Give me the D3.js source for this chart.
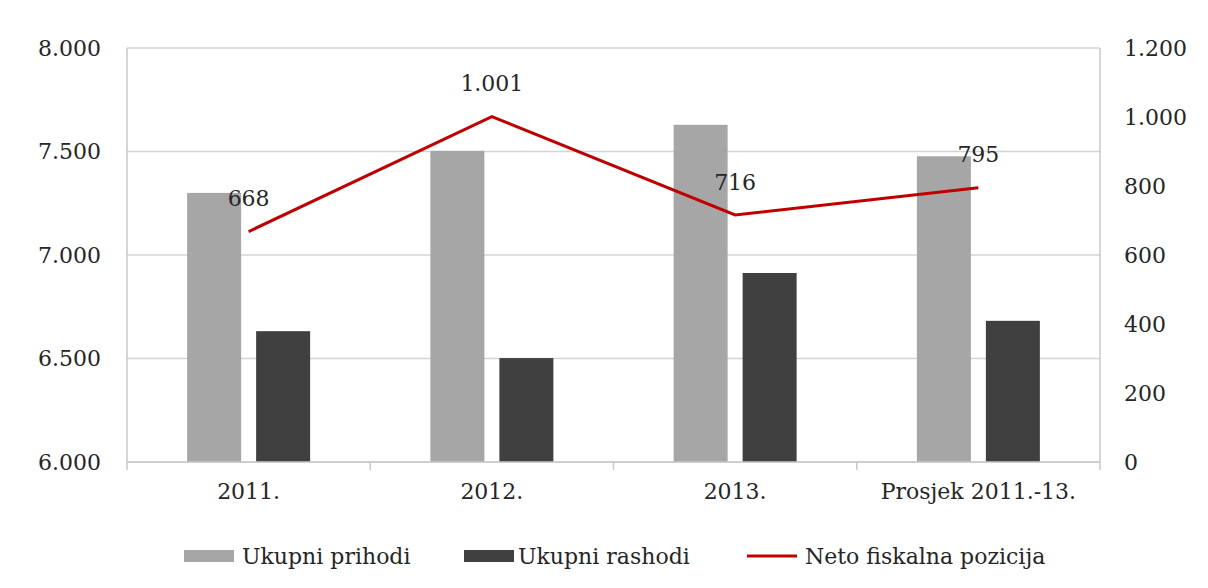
<!DOCTYPE html>
<html><head><meta charset="utf-8">
<script src="https://cdn.jsdelivr.net/npm/d3@7"></script>
<style>body{margin:0;background:#fff}svg text{font-family:"DejaVu Serif",serif;fill:#262626}</style>
</head><body><svg id="c" width="1208" height="588"></svg>
<script>
const categories = ["2011.", "2012.", "2013.", "Prosjek 2011.-13."];
const prihodi = [7300, 7503, 7629, 7477];
const rashodi = [6632, 6502, 6913, 6682];
const neto = [668, 1001, 716, 795];
const netoLabels = ["668", "1.001", "716", "795"];
const leftTicks = [6000, 6500, 7000, 7500, 8000];
const rightTicks = [0, 200, 400, 600, 800, 1000, 1200];
const seriesNames = ["Ukupni prihodi", "Ukupni rashodi", "Neto fiskalna pozicija"];

const svg = d3.select("#c");
const L = 127, R = 1100, T = 48, B = 462;
const fmt = v => d3.format(",")(v).replace(/,/g, ".");
const x = d3.scaleBand().domain(categories).range([L, R]);
const yL = d3.scaleLinear().domain([6000, 8000]).range([B, T]);
const yR = d3.scaleLinear().domain([0, 1200]).range([B, T]);
const barW = 54, gap = 15;

// gridlines
svg.append("g").selectAll("line").data(leftTicks).join("line")
  .attr("x1", L).attr("x2", R).attr("y1", d => yL(d)).attr("y2", d => yL(d))
  .attr("stroke", "#d4d4d4").attr("stroke-width", 1.5);
// axes lines
svg.append("line").attr("x1", L).attr("x2", L).attr("y1", T).attr("y2", B).attr("stroke", "#c8c8c8").attr("stroke-width", 1.5);
svg.append("line").attr("x1", R).attr("x2", R).attr("y1", T).attr("y2", B).attr("stroke", "#c8c8c8").attr("stroke-width", 1.5);

// bars
const g = svg.append("g");
g.selectAll("rect.p").data(categories).join("rect").attr("class", "p")
  .attr("x", (d) => x(d) + x.bandwidth() / 2 - gap / 2 - barW)
  .attr("width", barW)
  .attr("y", (d, i) => yL(prihodi[i])).attr("height", (d, i) => B - yL(prihodi[i]))
  .attr("fill", "#a6a6a6");
g.selectAll("rect.r").data(categories).join("rect").attr("class", "r")
  .attr("x", (d) => x(d) + x.bandwidth() / 2 + gap / 2)
  .attr("width", barW)
  .attr("y", (d, i) => yL(rashodi[i])).attr("height", (d, i) => B - yL(rashodi[i]))
  .attr("fill", "#404040");

// x axis
svg.append("line").attr("x1", L).attr("x2", R).attr("y1", B).attr("y2", B).attr("stroke", "#c8c8c8").attr("stroke-width", 1.5);
const bounds = categories.map(d => x(d)).concat([R]);
svg.append("g").selectAll("line").data(bounds).join("line")
  .attr("x1", d => d).attr("x2", d => d).attr("y1", B).attr("y2", B + 8)
  .attr("stroke", "#c8c8c8").attr("stroke-width", 1.5);
svg.append("g").selectAll("text").data(categories).join("text")
  .attr("x", d => x(d) + x.bandwidth() / 2).attr("y", 499)
  .attr("text-anchor", "middle").attr("font-size", 22).text(d => d);

// left labels
svg.append("g").selectAll("text").data(leftTicks).join("text")
  .attr("x", 101).attr("y", d => yL(d)).attr("dy", "0.35em")
  .attr("text-anchor", "end").attr("font-size", 22).text(d => fmt(d));
// right labels
svg.append("g").selectAll("text").data(rightTicks).join("text")
  .attr("x", 1124).attr("y", d => yR(d)).attr("dy", "0.35em")
  .attr("text-anchor", "start").attr("font-size", 22).text(d => fmt(d));

// line
const cx = (d) => x(d) + x.bandwidth() / 2;
const line = d3.line().x((d, i) => cx(categories[i])).y(d => yR(d));
svg.append("path").datum(neto).attr("d", line).attr("fill", "none")
  .attr("stroke", "#c00000").attr("stroke-width", 3);
svg.append("g").selectAll("text").data(neto).join("text")
  .attr("x", (d, i) => cx(categories[i])).attr("y", d => yR(d) - 33).attr("dy", "0.35em")
  .attr("text-anchor", "middle").attr("font-size", 22).text((d, i) => netoLabels[i]);

// legend
const lg = svg.append("g");
const ly = 556;
lg.append("rect").attr("x", 184).attr("y", ly - 6).attr("width", 50).attr("height", 12).attr("fill", "#a6a6a6");
lg.append("text").attr("x", 242).attr("y", ly).attr("dy", "0.35em").attr("font-size", 22).text(seriesNames[0]);
lg.append("rect").attr("x", 464).attr("y", ly - 6).attr("width", 50).attr("height", 12).attr("fill", "#404040");
lg.append("text").attr("x", 518).attr("y", ly).attr("dy", "0.35em").attr("font-size", 22).text(seriesNames[1]);
lg.append("line").attr("x1", 747).attr("x2", 797).attr("y1", ly).attr("y2", ly).attr("stroke", "#c00000").attr("stroke-width", 3);
lg.append("text").attr("x", 805).attr("y", ly).attr("dy", "0.35em").attr("font-size", 22).text(seriesNames[2]);
</script></body></html>
